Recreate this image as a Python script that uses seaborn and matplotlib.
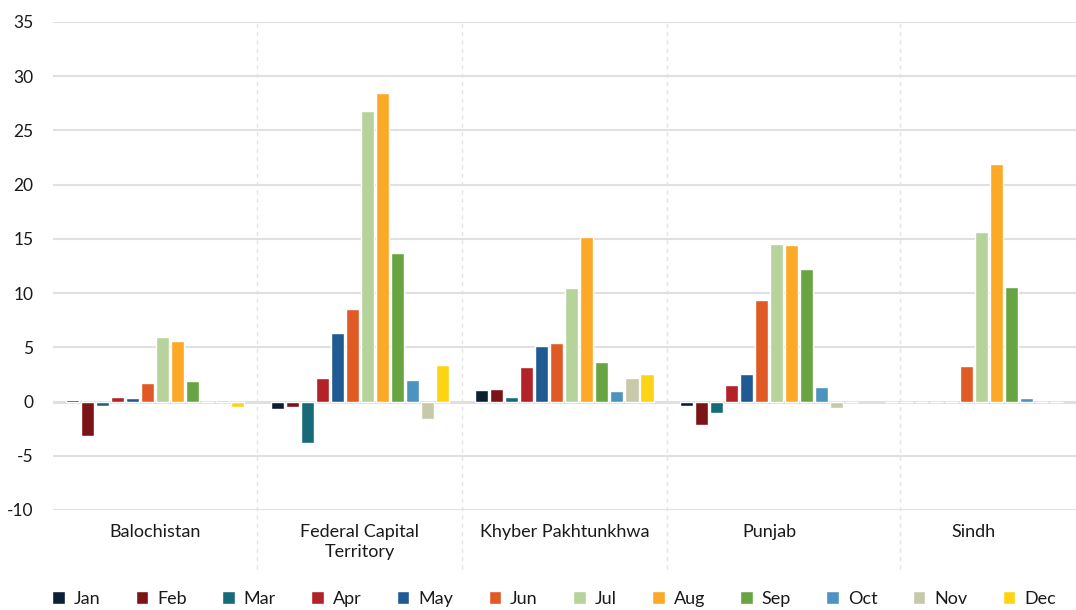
import pandas as pd
import numpy as np
import matplotlib.pyplot as plt
import seaborn as sns

provinces = ['Balochistan', 'Federal Capital\nTerritory', 'Khyber Pakhtunkhwa', 'Punjab', 'Sindh']
months = ['Jan', 'Feb', 'Mar', 'Apr', 'May', 'Jun', 'Jul', 'Aug', 'Sep', 'Oct', 'Nov', 'Dec']

balochistan = [0.1, -3.2, -0.45, 0.4, 0.3, 1.75, 5.95, 5.55, 1.85, 0.0, 0.1, -0.55]
fct = [-0.65, -0.55, -3.85, 2.15, 6.3, 8.5, 26.8, 28.45, 13.65, 1.95, -1.65, 3.4]
kp = [1.1, 1.2, 0.45, 3.15, 5.15, 5.35, 10.45, 15.15, 3.6, 1.0, 2.15, 2.5]
punjab = [-0.45, -2.2, -1.1, 1.5, 2.5, 9.4, 14.5, 14.4, 12.2, 1.3, -0.6, 0.0]
sindh = [0.0, 0.0, 0.0, 0.0, 0.0, 3.3, 15.6, 21.9, 10.6, 0.35, 0.0, 0.0]

colors = ['#0b1f35', '#7a1416', '#176a78', '#b22228', '#1f5a92', '#e05a26',
          '#b5d39a', '#fba926', '#69a443', '#4d93bf', '#c8c9aa', '#fcd413']

# long form table for seaborn
rows = []
for prov, vals in zip(provinces, [balochistan, fct, kp, punjab, sindh]):
    for m, v in zip(months, vals):
        rows.append({'province': prov, 'month': m, 'value': v})
df = pd.DataFrame(rows)

sns.set_style('white')
plt.rcParams['font.family'] = ['Lato', 'DejaVu Sans']
plt.rcParams['axes.unicode_minus'] = False

fig = plt.figure(figsize=(10.76, 6.10), dpi=100)
ax = fig.add_axes([0.049, 0.164, 0.951, 0.8])

sns.barplot(data=df, x='province', y='value', hue='month', hue_order=months,
            palette=colors, width=0.88, gap=0.12, saturation=1, ax=ax, legend=True)

ax.set_ylim(-10, 35)
ax.set_yticks(np.arange(-10, 36, 5))
ax.yaxis.grid(True, color='#e0e0e0', linewidth=1.5)
ax.set_axisbelow(True)
ax.axhline(0, color='#dcdcdc', linewidth=2, zorder=0.5)

# dashed group separators (last one sits a bit further right in the original)
for xs in [0.5, 1.5, 2.5, 3.64]:
    ax.axvline(xs, ymin=-0.12, ymax=1.0, color='#e4e4e4', linewidth=1,
               linestyle=(0, (3, 3)), clip_on=False, zorder=0)
ax.set_xlim(-0.5, len(provinces) - 0.5)
for s in ax.spines.values():
    s.set_visible(False)
ax.tick_params(axis='both', length=0, labelsize=12.5, colors='#1a1a1a')
ax.tick_params(axis='x', labelsize=13, pad=10)
ax.tick_params(axis='y', pad=14)
ax.set_xlabel('')
ax.set_ylabel('')
for t in ax.get_xticklabels():
    t.set_linespacing(1.35)

handles, labels = ax.get_legend_handles_labels()
ax.legend_.remove()
fig.legend(handles, labels, loc='center', bbox_to_anchor=(0.515, 0.018), ncol=12,
           frameon=False, fontsize=13, handlelength=0.7, handleheight=0.7,
           handletextpad=0.5, columnspacing=1.95, labelcolor='#1a1a1a')

fig.savefig('out.png', dpi=100)
